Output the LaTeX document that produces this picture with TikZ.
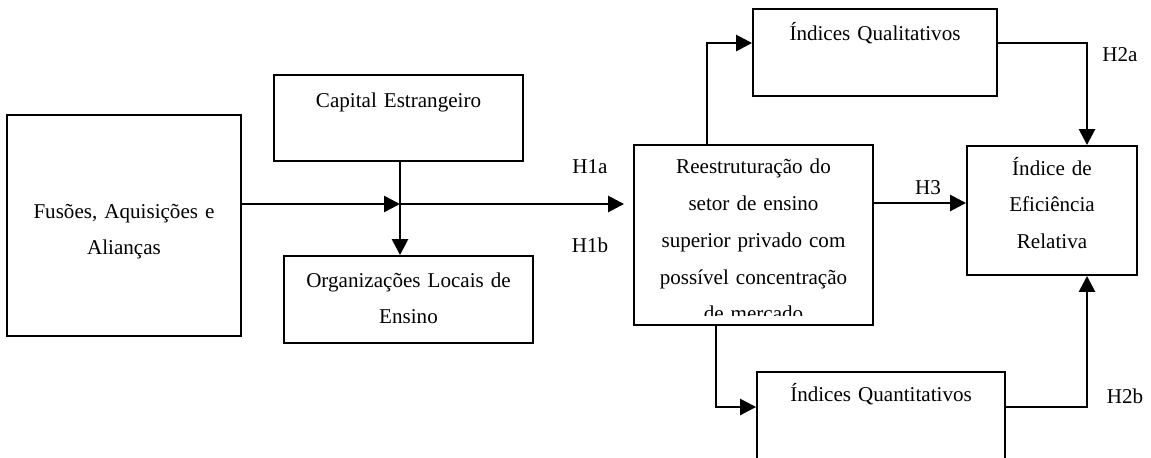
\documentclass[tikz,border=0pt]{standalone}
\usepackage{fontspec}
\setmainfont{Liberation Serif}
\usetikzlibrary{arrows.meta}

\begin{document}
\begin{tikzpicture}[x=0.02cm, y=-0.02cm,
  every node/.style={font=\fontsize{12}{21}\selectfont},
  box/.style={draw, line width=1.1pt, inner sep=0pt, align=center},
  arr/.style={line width=1.5pt, -{Triangle[length=0.32cm, width=0.32cm]}}]
\useasboundingbox (0,0) rectangle (1151,457);
\node[box, text width=4.68cm, text height=2.06cm, text depth=2.36cm] (Fus) at (124,225.5) {Fusões, Aquisições e\\Alianças};
\node[box, text width=4.98cm, text height=0.64cm, text depth=1.08cm] (Cap) at (398.5,118) {Capital Estrangeiro};
\node[box, text width=4.98cm, text height=0.62cm, text depth=1.12cm] (Org) at (408.5,299.5) {Organizações Locais de\\Ensino};
\node[box, minimum width=4.78cm, minimum height=3.6cm] (Reest) at (753.5,235) {};
\begin{scope}
\clip (634,145) rectangle (873,315);
\node[inner sep=0pt, align=center, text width=4.78cm, text height=0.58cm, anchor=north] (ReestTxt) at (Reest.north) {Reestruturação do\\setor de ensino\\superior privado com\\possível concentração\\de mercado};
\end{scope}
\node[box, text width=4.88cm, text height=0.62cm, text depth=1.12cm] (Qual) at (875,52.5) {Índices Qualitativos};
\node[box, text width=3.4cm, text height=0.58cm, text depth=2.0cm] (Efic) at (1052,210.5) {Índice de\\Eficiência\\Relativa};
\node[box, text width=4.96cm, text height=0.58cm, text depth=1.58cm] (Quant) at (881,426) {Índices Quantitativos};
\coordinate (Jn) at (400,204);
\coordinate (H3pt) at ([yshift=0.64cm]Reest.east);
\draw[arr] (Fus.east |- Jn) -- (Jn);
\draw[arr, shorten >=0.18cm] (Jn) -- (Jn -| Reest.west);
\draw[arr] (Jn |- Cap.south) -- (Jn |- Org.north);
\draw[arr] ([xshift=-0.93cm]Reest.north) |- ([yshift=0.19cm]Qual.west);
\draw[arr] ([yshift=0.19cm]Qual.east) -| ([xshift=0.7cm]Efic.north);
\draw[arr] (H3pt) -- (H3pt -| Efic.west);
\draw[arr] ([xshift=-0.75cm]Reest.south) |- ([yshift=0.38cm]Quant.west);
\draw[arr] ([yshift=0.38cm]Quant.east) -| ([xshift=0.7cm]Efic.south);
\node (H1a) at (590,167) {H1a};
\node (H1b) at (590,245) {H1b};
\node (H3) at (928,188) {H3};
\node (H2a) at (1120,55) {H2a};
\node (H2b) at (1125,396) {H2b};
\end{tikzpicture}
\end{document}
